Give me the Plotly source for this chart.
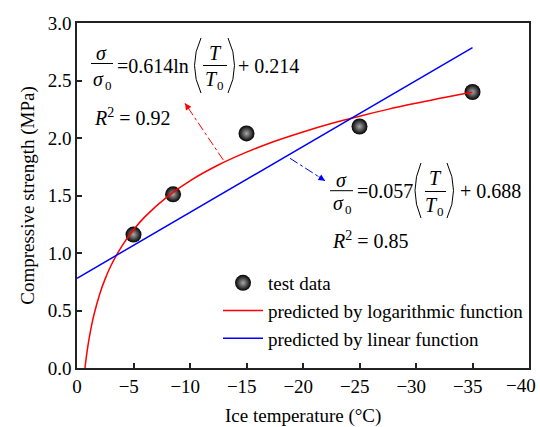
import plotly.graph_objects as go

# ---- data ----
test_T = [-5, -8.5, -15, -25, -35]
test_sigma = [1.16, 1.51, 2.04, 2.10, 2.40]

log_T = [-0.71, -0.8, -1.0, -1.25, -1.5, -2, -2.5, -3, -4, -5, -6, -8, -10,
         -12.5, -15, -17.5, -20, -22.5, -25, -27.5, -30, -32.5, -35]
log_sigma = [0.0, 0.077, 0.214, 0.351, 0.463, 0.640, 0.777, 0.889, 1.065, 1.202,
             1.314, 1.491, 1.628, 1.765, 1.877, 1.972, 2.053, 2.126, 2.190, 2.249,
             2.302, 2.352, 2.397]

lin_T = [0, -35]
lin_sigma = [0.78, 2.785]

x_ticks = [0, -5, -10, -15, -20, -25, -30, -35, -40]
y_ticks = [0.0, 0.5, 1.0, 1.5, 2.0, 2.5, 3.0]

x_title = "Ice temperature (°C)"
y_title = "Compressive strength (MPa)"

FONT = "Liberation Serif, Times New Roman, serif"
W, H = 540, 427
L, T, R, B = 77, 23, 529, 368


def px(x, y):
    return (x - L) / (R - L), (B - y) / (B - T)


def tick_label(v):
    return ("−" + str(-v)) if v else "0"


fig = go.Figure()
fig.add_trace(go.Scatter(
    x=test_T, y=test_sigma, mode="markers", name="test data",
    marker=dict(size=16, color="#000000", line=dict(width=0),
                gradient=dict(type="radial", color="#a8a8a8"))))
fig.add_trace(go.Scatter(
    x=log_T, y=log_sigma, mode="lines", name="predicted by logarithmic function",
    line=dict(color="#ff0000", width=1.5, shape="spline")))
fig.add_trace(go.Scatter(
    x=lin_T, y=lin_sigma, mode="lines", name="predicted by linear function",
    line=dict(color="#0000ff", width=1.5)))

annotations = []
shapes = []


def text(x, y, s, size=20, anchor="center"):
    xp, yp = px(x, y)
    annotations.append(dict(xref="paper", yref="paper", x=xp, y=yp, text=s,
                            showarrow=False, xanchor=anchor, yanchor="middle",
                            font=dict(family=FONT, size=size, color="black")))


def hline(x0, x1, y):
    a, b = px(x0, y)
    c, _ = px(x1, y)
    shapes.append(dict(type="line", xref="paper", yref="paper", x0=a, y0=b, x1=c, y1=b,
                       line=dict(color="black", width=1)))


def paren(xe, xc, y0, y1):
    a, b = px(xe, y0)
    c, d = px(xc, (y0 + y1) / 2)
    e, f = px(xe, y1)
    shapes.append(dict(type="path", xref="paper", yref="paper",
                       path=f"M {a},{b} Q {c},{d} {e},{f}",
                       line=dict(color="black", width=1)))


def arrow(x0, y0, x1, y1, color):
    # dash-dot shaft
    a, b = px(x0, y0)
    c, d = px(x1, y1)
    shapes.append(dict(type="line", xref="paper", yref="paper", x0=a, y0=b, x1=c, y1=d,
                       line=dict(color=color, width=1, dash="dashdot")))
    # head
    dx, dy = x0 - x1, y0 - y1
    n = (dx * dx + dy * dy) ** 0.5
    annotations.append(dict(xref="paper", yref="paper", x=c, y=d, text=" ",
                            showarrow=True, arrowhead=2, arrowsize=1.3, arrowwidth=1,
                            arrowcolor=color, ax=dx / n * 10, ay=dy / n * 10,
                            font=dict(size=2)))


# equation 1 (logarithmic)
text(101.7, 53, "<i>σ</i>")
hline(91, 113, 63.5)
text(98.5, 79, "<i>σ</i>")
text(108, 85, "0", size=13)
text(115, 65.5, "=0.614ln", anchor="left")
paren(201, 188, 38, 93)
text(215.5, 52.5, "<i>T</i>")
hline(203, 227, 65.5)
text(211, 79, "<i>T</i>")
text(220.5, 86, "0", size=13)
paren(228, 241, 38, 93)
text(236, 65.5, "+ 0.214", anchor="left")
text(92, 117, "<i>R</i><sup>2</sup> = 0.92", anchor="left")

# equation 2 (linear)
text(341.7, 179.7, "<i>σ</i>")
hline(330, 353, 190.7)
text(338.5, 203, "<i>σ</i>")
text(348, 209, "0", size=13)
text(355, 191, "=0.057", anchor="left")
paren(421, 409, 163, 218)
text(435, 178, "<i>T</i>")
hline(425, 446, 191.5)
text(431, 205, "<i>T</i>")
text(440.5, 212, "0", size=13)
paren(447, 460, 163, 218)
text(458, 191, "+ 0.688", anchor="left")
text(330, 240, "<i>R</i><sup>2</sup> = 0.85", anchor="left")

arrow(223.3, 160, 185, 103.3, "#ff0000")
arrow(290, 158.3, 325, 180.7, "#0000ff")

# last x tick label sits flush against the right edge of the figure
last_xp, last_yp = px(538, 385)
annotations.append(dict(xref="paper", yref="paper", x=last_xp, y=last_yp,
                        text=tick_label(x_ticks[-1]), showarrow=False,
                        xanchor="right", yanchor="middle",
                        font=dict(family=FONT, size=19, color="black")))

# x-axis title (placed lower than plotly's margin-constrained title would go)
xt_x, xt_y = px(303, 416)
annotations.append(dict(xref="paper", yref="paper", x=xt_x, y=xt_y, text=x_title,
                        showarrow=False, xanchor="center", yanchor="middle",
                        font=dict(family=FONT, size=19, color="black")))

lx, ly = px(218, 264)

axis_common = dict(showline=True, linecolor="#222222", linewidth=1.5, mirror=True,
                   ticks="inside", ticklen=5, tickwidth=1.5, tickcolor="#222222",
                   showgrid=False, zeroline=False,
                   automargin=False,
                   tickfont=dict(family=FONT, size=19, color="black"),
                   title_font=dict(family=FONT, size=19, color="black"))

fig.update_layout(
    width=W, height=H,
    margin=dict(l=L, r=W - R, t=T, b=H - B, pad=0, autoexpand=False),
    paper_bgcolor="white", plot_bgcolor="white",
    font=dict(family=FONT, size=19, color="black"),
    showlegend=True,
    legend=dict(x=lx, y=ly, xanchor="left", yanchor="top", bgcolor="rgba(0,0,0,0)",
                borderwidth=0, font=dict(family=FONT, size=19, color="black"),
                itemwidth=40),
    annotations=annotations, shapes=shapes,
)
# negative labels are centred on their digits (minus sign hangs to the left)
fig.update_xaxes(range=[0, -40], tickvals=x_ticks[:-1],
                 ticktext=[(tick_label(v) + "\u2002") if v else "0" for v in x_ticks[:-1]],
                 **axis_common)
fig.update_yaxes(range=[0, 3], tickvals=y_ticks, ticktext=[f"{v:.1f}" for v in y_ticks],
                 title_text=y_title, title_standoff=8, **axis_common)

fig.write_html("out.html")
